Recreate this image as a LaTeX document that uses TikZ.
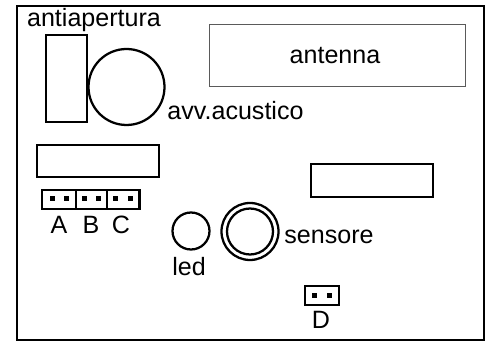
\documentclass[tikz,border=0pt]{standalone}
\usepackage{fontspec}
\setmainfont{Liberation Sans}
\tikzset{
  thick line/.style={line width=1.7pt},
  label text/.style={inner sep=0pt,anchor=base,font=\fontsize{18.8}{20}\selectfont},
  pin dot/.style={fill=black,draw=none}
}

\begin{document}
\begin{tikzpicture}[x=0.75pt,y=0.75pt,yscale=-1,xscale=1]
\useasboundingbox (0,0) rectangle (486,341);

%Shape: Board
\draw [thick line] (17,6) -- (484,6) -- (484,340) -- (17,340) -- cycle ;

%Shape: Antiapertura
\draw [thick line] (46,35) rectangle (87,122) ;
%Shape: Circle
\draw [thick line] (126.5,87) circle (38) ;
%Shape: Antenna
\draw [line width=0.6pt,draw={rgb,255:red,90;green,90;blue,90}] (209.5,24.5) rectangle (465,86.5) ;
%Shape: Left block
\draw [thick line] (37,145) rectangle (159,177) ;
%Shape: Right block
\draw [thick line] (311,164) rectangle (433,197) ;

%Shape: Connectors A B C
\draw [thick line] (42,190) rectangle (139.5,209) ;
\draw [thick line] (76,190) -- (76,209) ;
\draw [thick line] (107,190) -- (107,209) ;
\foreach \px in {52,66,84,98,115,130}
  \fill [pin dot] (\px-2.5,196.5) rectangle (\px+2.5,201.5) ;

%Shape: Led
\draw [thick line] (191,231) circle (18.5) ;
%Shape: Sensor
\draw [thick line] (250,231.5) circle (28.5) ;
\draw [thick line] (250,231.5) circle (23) ;

%Shape: Connector D
\draw [thick line] (305,286) rectangle (339,305) ;
\foreach \px in {314,329}
  \fill [pin dot] (\px-2.5,293) rectangle (\px+2.5,298) ;

\node [label text] (antiapertura) at (94,27) {antiapertura};
\node [label text] (acustico) at (235.5,120) {avv.acustico};
\node [label text] (antenna) at (335,64) {antenna};
\node [label text] (sensore) at (329,244) {sensore};
\node [label text] (labA) at (59,234) {A};
\node [label text] (labB) at (91,234) {B};
\node [label text] (labC) at (121,234) {C};
\node [label text] (led) at (189,276) {led};
\node [label text] (labD) at (321,329) {D};

\end{tikzpicture}
\end{document}
